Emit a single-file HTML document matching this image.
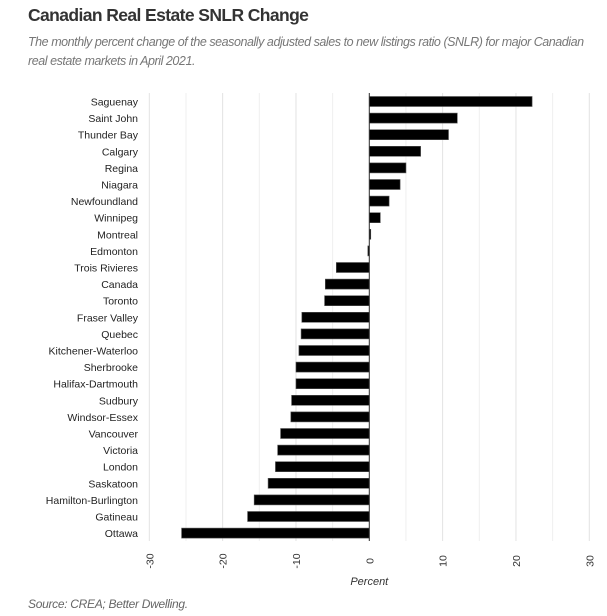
<!DOCTYPE html>
<html><head><meta charset="utf-8"><style>
body{margin:0;background:#fff;width:607px;height:616px;overflow:hidden;font-family:"Liberation Sans",sans-serif}
#title{position:absolute;left:28px;top:5px;font-size:17.5px;font-weight:bold;color:#333;letter-spacing:-0.6px}
#sub{position:absolute;left:28px;top:33px;width:579px;font-size:12.5px;font-style:italic;color:#777;line-height:19px;letter-spacing:-0.45px;white-space:nowrap}
#src{position:absolute;left:28px;top:597px;font-size:12px;font-style:italic;color:#666;letter-spacing:-0.3px}
svg{position:absolute;left:0;top:0}
</style></head><body>
<div id="title">Canadian Real Estate SNLR Change</div>
<div id="sub">The monthly percent change of the seasonally adjusted sales to new listings ratio (SNLR) for major Canadian<br>real estate markets in April 2021.</div>
<div id="src">Source: CREA; Better Dwelling.</div>
<svg id="chart" width="607" height="616"></svg>
<script>
const categories=["Saguenay","Saint John","Thunder Bay","Calgary","Regina","Niagara","Newfoundland","Winnipeg","Montreal","Edmonton","Trois Rivieres","Canada","Toronto","Fraser Valley","Quebec","Kitchener-Waterloo","Sherbrooke","Halifax-Dartmouth","Sudbury","Windsor-Essex","Vancouver","Victoria","London","Saskatoon","Hamilton-Burlington","Gatineau","Ottawa"];
const values=[22.2,12.0,10.8,7.0,5.0,4.2,2.7,1.5,0.2,-0.2,-4.5,-6.0,-6.1,-9.2,-9.3,-9.6,-10.0,-10.0,-10.6,-10.7,-12.1,-12.5,-12.8,-13.8,-15.7,-16.6,-25.6];
const tickValues=[-30,-20,-10,0,10,20,30];
const gridValues=[-30,-25,-20,-15,-10,-5,0,5,10,15,20,25,30];
const NS="http://www.w3.org/2000/svg";
const svg=document.getElementById('chart');
const x=v=>369.3+v*7.333;
const y=i=>101.5+i*16.6;
function mk(t,a){const e=document.createElementNS(NS,t);for(const k in a)e.setAttribute(k,a[k]);svg.appendChild(e);return e;}
gridValues.forEach(g=>{
  const l=mk('line',{x1:x(g),x2:x(g),y1:93,y2:541,stroke:g%10===0?'#e2e2e2':'#efefef','stroke-width':1});
  
  
});
values.forEach((v,i)=>{
  const r=mk('rect',{x:Math.min(x(0),x(v)),y:y(i)-5,width:Math.max(1,Math.abs(x(v)-x(0))),height:10,fill:'#000',stroke:'#555','stroke-width':0.6});
  
  
  const t=mk('text',{x:138,y:y(i)+4,'text-anchor':'end','font-size':'10.5px',fill:'#222'});
  t.textContent=categories[i];
  
  
});
const z=mk('line',{x1:x(0),x2:x(0),y1:93,y2:541,stroke:'#333','stroke-width':1});


tickValues.forEach(tv=>{
  const t=mk('text',{x:0,y:0,'text-anchor':'middle','font-size':'10.5px',fill:'#333',transform:`translate(${x(tv)+4},561) rotate(-90)`});
  t.textContent=tv;
  
  
});
const xt=mk('text',{x:x(0),y:585,'text-anchor':'middle','font-size':'11px','font-style':'italic',fill:'#333'});
xt.textContent='Percent';


</script>
</body></html>
